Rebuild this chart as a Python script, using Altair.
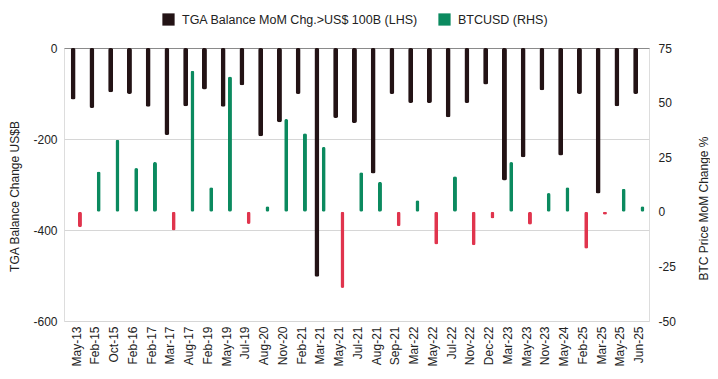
import altair as alt
import pandas as pd

categories = ["May-13", "Feb-15", "Oct-15", "Feb-16", "Feb-17", "Mar-17", "Aug-17", "Feb-19",
              "May-19", "Jul-19", "Aug-20", "Nov-20", "Feb-21", "Mar-21", "May-21", "Jul-21",
              "Aug-21", "Sep-21", "Mar-22", "May-22", "Jul-22", "Nov-22", "Dec-22", "Mar-23",
              "May-23", "Nov-23", "May-24", "Feb-25", "Mar-25", "May-25", "Jun-25"]
tga_change = [-113, -132, -97, -101, -129, -191, -128, -91, -129, -82, -194, -163, -101, -503,
              -154, -165, -276, -101, -121, -121, -152, -121, -80, -291, -240, -93, -236, -101,
              -320, -128, -101]
btc_change = [-7.1, 18.5, 33.0, 20.0, 22.8, -8.6, 64.6, 11.2, 62.0, -5.6, 2.5, 42.5, 36.0, 29.7,
              -34.9, 18.1, 13.7, -6.6, 5.3, -15.0, 16.3, -15.3, -3.1, 22.8, -5.9, 8.6, 11.2,
              -16.9, -1.3, 10.6, 2.5]

TGA = "TGA Balance MoM Chg.>US$ 100B (LHS)"
BTC = "BTCUSD (RHS)"
NEG = "BTCUSD negative"

df = pd.DataFrame({"cat": categories, "tga": tga_change, "btc": btc_change})

FONT = "Liberation Sans"
color_scale = alt.Scale(domain=[TGA, BTC, NEG], range=["#231315", "#0b8a5f", "#e0344d"])

x_enc = alt.X("cat:N", sort=categories, title=None,
              scale=alt.Scale(paddingInner=0, paddingOuter=0.1, align=0.85),
              axis=alt.Axis(labelAngle=-90, labelFontSize=12, labelFont=FONT, labelColor="#222",
                            ticks=False, domain=False, labelPadding=5))

base = alt.Chart(df)

tga_bars = base.mark_bar(width=5, xOffset=-3.4, cornerRadius=2).transform_calculate(
    key=f"'{TGA}'"
).encode(
    x=x_enc,
    y=alt.Y("tga:Q", scale=alt.Scale(domain=[-600, 0], nice=False),
            title="TGA Balance Change US$B",
            axis=alt.Axis(values=[0, -200, -400, -600], orient="left", ticks=False, domain=False,
                          labelExpr="datum.value + ''",
                          gridColor={"condition": {"test": "datum.value === 0", "value": "#8a8a8a"},
                                     "value": "#d6d6d6"},
                          labelFontSize=12, labelFont=FONT, labelColor="#222", labelPadding=7,
                          titleFontSize=12, titleFont=FONT, titleFontWeight="normal",
                          titleColor="#222", titlePadding=11, titleY=148)),
    color=alt.Color("key:N", scale=color_scale, title=None,
                    legend=alt.Legend(values=[TGA, BTC], orient="none", direction="horizontal",
                                      legendX=98, legendY=-35, symbolType="square", symbolSize=150,
                                      symbolStrokeWidth=0, labelFontSize=12.5, labelFont=FONT,
                                      labelColor="#222", labelOffset=7, columnPadding=20,
                                      labelLimit=400, padding=0)),
)

btc_bars = base.mark_bar(width=4, xOffset=3.4, cornerRadius=2).transform_calculate(
    key=f"datum.btc >= 0 ? '{BTC}' : '{NEG}'"
).encode(
    x=x_enc,
    y=alt.Y("btc:Q", scale=alt.Scale(domain=[-50, 75], nice=False),
            title="BTC Price MoM Change %",
            axis=alt.Axis(values=[75, 50, 25, 0, -25, -50], orient="right", ticks=False,
                          domain=False, grid=False, labelExpr="datum.value + ''",
                          labelFontSize=12, labelFont=FONT, labelColor="#222", labelPadding=9,
                          titleFontSize=12, titleFont=FONT, titleFontWeight="normal",
                          titleColor="#222", titlePadding=35, titleAngle=270, titleY=160)),
    color=alt.Color("key:N", scale=color_scale, title=None),
)

chart = alt.layer(tga_bars, btc_bars).resolve_scale(y="independent").properties(
    width=585, height=273, padding={"left": 0, "top": 5, "right": 0, "bottom": 0}
).configure_view(stroke=None).configure(background="white")

chart.save("out.html", embed_options={"renderer": "svg", "actions": False})
